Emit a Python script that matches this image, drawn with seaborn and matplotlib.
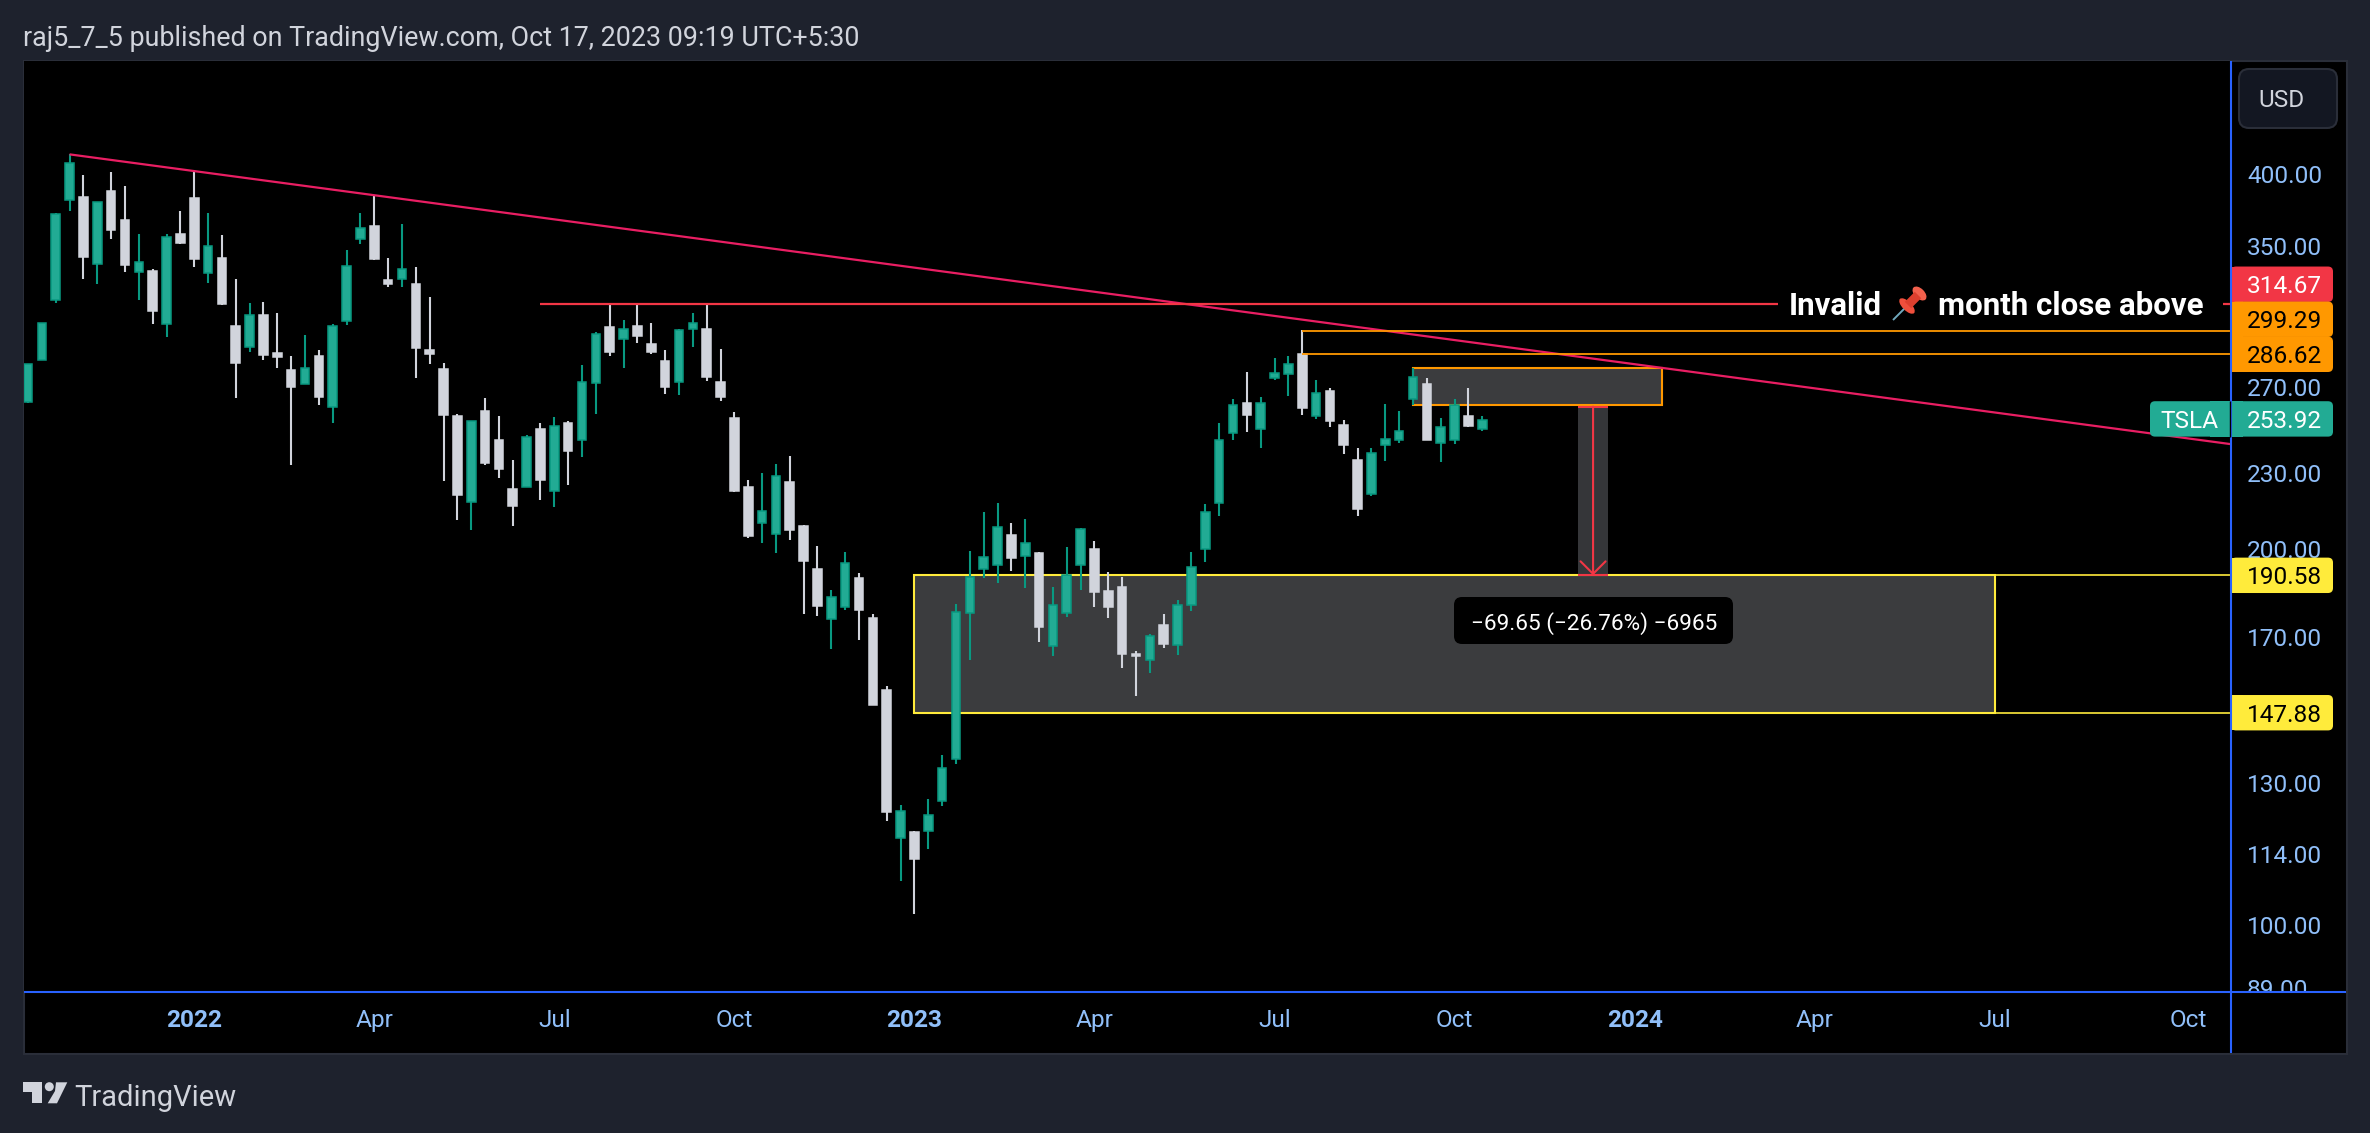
import matplotlib
matplotlib.use("Agg")
import matplotlib.pyplot as plt
import numpy as np
import pandas as pd
import seaborn as sns
from matplotlib.patches import Rectangle, FancyBboxPatch, Polygon, Circle, Ellipse
from matplotlib.ticker import NullLocator, NullFormatter
from matplotlib.transforms import Bbox

# weekly TSLA candles
opens = [262.3, 283.5, 316.7, 380.9, 383.5, 338.5, 387.3, 367.1, 333.5, 334.1,
         303.0, 357.7, 382.8, 332.9, 342.3, 301.8, 290.4, 308.0, 287.2, 278.3,
         271.2, 285.6, 259.9, 304.6, 354.4, 363.1, 328.6, 329.2, 326.2, 288.8,
         278.8, 255.7, 218.1, 258.0, 244.6, 223.4, 224.2, 249.6, 222.6, 252.4,
         244.6, 271.7, 301.2, 294.7, 301.8, 292.1, 283.0, 272.2, 300.2, 300.2,
         272.2, 254.7, 224.2, 209.8, 205.6, 226.4, 208.7, 192.7, 175.7, 179.7,
         189.6, 176.1, 154.2, 117.3, 118.7, 118.9, 125.7, 135.8, 177.7, 192.7,
         194.2, 205.2, 197.4, 198.5, 167.2, 177.7, 194.2, 200.0, 185.0, 186.4,
         164.8, 163.0, 173.8, 167.5, 180.4, 200.0, 217.7, 247.7, 261.8, 249.6,
         274.2, 276.2, 286.7, 255.7, 267.7, 251.5, 235.7, 221.3, 242.3, 244.6,
         263.8, 271.2, 243.2, 244.6, 255.7, 249.6]
highs = [281.4, 303.5, 371.9, 414.6, 398.9, 379.5, 401.1, 390.9, 357.7, 335.3,
         357.7, 373.2, 402.6, 371.9, 357.0, 329.2, 314.9, 315.9, 309.2, 285.6,
         296.9, 288.8, 303.0, 347.3, 371.9, 384.3, 342.3, 364.4, 336.6, 318.4,
         281.9, 256.6, 253.3, 264.3, 255.7, 235.7, 246.8, 252.4, 255.2, 253.3,
         280.9, 298.5, 313.8, 305.2, 314.9, 303.5, 288.8, 300.2, 309.2, 313.8,
         289.3, 257.5, 227.2, 230.1, 234.0, 237.4, 209.0, 201.1, 185.4, 198.9,
         191.3, 177.4, 155.3, 124.7, 118.9, 126.1, 136.8, 180.7, 199.2, 214.1,
         217.7, 209.8, 211.4, 198.9, 186.4, 200.7, 207.9, 202.9, 191.7, 189.9,
         165.7, 170.9, 177.4, 182.0, 198.9, 217.3, 252.4, 263.8, 277.3, 264.8,
         284.6, 285.6, 299.6, 273.2, 269.2, 253.8, 241.0, 241.0, 261.4, 258.0,
         279.3, 274.2, 254.7, 263.8, 269.2, 255.7]
lows = [261.9, 283.5, 315.1, 373.2, 329.2, 326.2, 354.4, 333.5, 316.7, 303.0,
        295.8, 351.2, 336.6, 326.8, 313.8, 264.3, 287.8, 283.5, 279.3, 233.5,
        271.2, 260.9, 252.4, 302.4, 351.2, 341.0, 324.4, 324.4, 274.2, 281.4,
        226.8, 211.0, 207.1, 233.5, 228.0, 208.7, 224.2, 218.9, 216.1, 225.1,
        237.0, 256.6, 285.6, 279.3, 292.6, 286.7, 266.2, 265.7, 290.4, 272.7,
        262.8, 222.2, 204.1, 202.2, 198.5, 203.3, 177.4, 176.7, 166.3, 178.7,
        169.1, 150.0, 121.1, 108.4, 102.0, 115.0, 124.5, 134.5, 163.0, 189.6,
        187.9, 192.0, 186.1, 168.5, 164.2, 176.4, 185.4, 179.7, 176.1, 160.6,
        152.5, 159.1, 166.6, 164.5, 178.4, 195.3, 212.6, 244.6, 248.2, 241.0,
        273.2, 265.3, 256.1, 254.3, 250.5, 238.4, 212.6, 220.5, 235.3, 243.2,
        260.9, 244.6, 234.8, 242.8, 250.5, 248.7]
closes = [281.4, 303.5, 371.2, 407.8, 343.3, 379.5, 360.4, 337.9, 339.7, 310.3,
          355.8, 351.9, 341.6, 349.9, 314.4, 281.9, 308.0, 286.2, 285.1, 269.7,
          279.3, 264.8, 301.8, 337.3, 361.7, 341.6, 326.2, 335.3, 289.9, 286.7,
          256.1, 220.9, 253.3, 234.4, 231.8, 216.5, 245.9, 227.2, 250.9, 239.7,
          272.2, 297.4, 287.8, 300.2, 296.4, 287.8, 269.7, 299.6, 303.5, 274.7,
          264.8, 222.6, 204.8, 214.5, 228.9, 207.1, 195.6, 180.0, 183.0, 194.9,
          178.7, 150.0, 123.1, 123.4, 112.9, 122.5, 133.5, 178.0, 189.9, 197.1,
          208.3, 196.7, 202.2, 173.2, 180.4, 190.7, 207.5, 184.7, 179.7, 164.8,
          164.2, 170.3, 167.9, 180.4, 193.4, 214.1, 244.6, 260.9, 256.1, 261.8,
          276.7, 281.4, 259.4, 266.7, 253.3, 242.3, 215.3, 238.8, 245.1, 248.7,
          274.7, 244.6, 250.5, 260.9, 251.0, 253.9]

# axes
time_ticks = [12, 25, 38, 51, 64, 77, 90, 103, 116, 129, 142, 156]
time_labels = ["2022", "Apr", "Jul", "Oct", "2023", "Apr", "Jul", "Oct", "2024", "Apr", "Jul", "Oct"]
price_ticks = [400, 350, 270, 230, 200, 170, 130, 114, 100, 89]

# drawings
trend_bars = [3, 159.06]
trend_prices = [414.6, 242.8]
invalid_level = 314.67
invalid_start = 37
orange_levels = [299.29, 286.62]
orange_start = 92
supply_zone = [100, 118, 260.9, 279.3]
demand_zone = [64, 142, 147.88, 190.58]
measure_bars = [111.9, 114.1]
measure_prices = [260.23, 190.58]
measure_label = "\u221269.65 (\u221226.76%) \u22126965"

# price tags on the right scale
tag_values = [314.67, 299.29, 286.62, 253.92, 190.58, 147.88]
tag_colors = ["#F23645", "#FF9800", "#FF9800", "#22AB94", "#FFEB3B", "#FFEB3B"]
tag_text_colors = ["white", "black", "black", "white", "black", "black"]
tag_nudge = [-19.5, -11.6, 0, -1, 0, 0]

GREEN_EDGE = "#089981"
GREEN_FILL = "#22AB94"
WHITE = "#D1D4DC"
PINK = "#E91E63"
RED = "#F23645"
ORANGE = "#FF9800"
YELLOW = "#FFEB3B"
BLUE = "#2962FF"
LABEL = "#90BFF9"
PANEL = "#1E222D"
BORDER = "#2A2E39"
ZONE = "#3B3C3E"
W, H = 2370, 1133

sns.set_theme(style="dark", rc={"font.family": "Roboto", "lines.solid_capstyle": "butt",
                                "axes.grid": False})

fig = plt.figure(figsize=(W / 100, H / 100), dpi=100, facecolor=PANEL)


def px_axes(z):
    a = fig.add_axes([0, 0, 1, 1], zorder=z)
    a.set_xlim(0, W)
    a.set_ylim(H, 0)
    a.axis("off")
    return a


bg = px_axes(0)
bg.add_patch(Rectangle((23.5, 60.5), 2323, 993, fc="black", ec=BORDER, lw=1.5))

ax = fig.add_axes([24 / W, 1 - 992 / H, (2231 - 24) / W, (992 - 61) / H], zorder=2)
ax.set_facecolor("black")
ax.set_yscale("log")
ax.set_xlim(-0.29, 159.06)
ax.set_ylim(88.3, 492.6)

# zones sit under the candles
x0, x1, y0, y1 = demand_zone
ax.add_patch(Rectangle((x0, y0), x1 - x0, y1 - y0, fc=ZONE, ec=YELLOW, lw=1.5, zorder=1))
ax.hlines([y0, y1], x1, 159.06, color=YELLOW, lw=1.2, zorder=1)
x0, x1, y0, y1 = supply_zone
ax.add_patch(Rectangle((x0, y0), x1 - x0, y1 - y0, fc=ZONE, ec=ORANGE, lw=1.5, zorder=1))
m0, m1 = measure_bars
ax.add_patch(Rectangle((m0, measure_prices[1]), m1 - m0, measure_prices[0] - measure_prices[1],
                       fc="#353639", ec="none", zorder=1))

# wicks
df = pd.DataFrame({"bar": np.arange(len(opens)), "open": opens, "high": highs,
                   "low": lows, "close": closes})
df["direction"] = np.where(df["close"] >= df["open"], "up", "down")
wicks = df.melt(id_vars=["bar", "direction"], value_vars=["high", "low"], value_name="price")
sns.lineplot(data=wicks, x="bar", y="price", hue="direction", units="bar", estimator=None,
             palette={"up": GREEN_EDGE, "down": WHITE}, linewidth=1.5, legend=False,
             sort=False, zorder=2, ax=ax)

# bodies
for direction, fill, edge in [("up", GREEN_FILL, GREEN_EDGE), ("down", WHITE, WHITE)]:
    part = df[df["direction"] == direction]
    ax.bar(part["bar"], (part["close"] - part["open"]).abs(),
           bottom=part[["open", "close"]].min(axis=1), width=0.62,
           color=fill, edgecolor=edge, linewidth=1.1, zorder=3)

# levels and trend line
lines = pd.DataFrame({"bar": trend_bars, "price": trend_prices})
sns.lineplot(data=lines, x="bar", y="price", color=PINK, linewidth=1.6, sort=False, zorder=4, ax=ax)
ax.hlines(invalid_level, invalid_start, 159.06, color=RED, lw=1.6, zorder=4)
ax.hlines(orange_levels, orange_start, 159.06, color=ORANGE, lw=1.3, zorder=4)

# measure tool
ax.hlines(measure_prices, m0, m1, color=RED, lw=1.5, zorder=4)
ax.annotate("", xy=(113, measure_prices[1]), xytext=(113, measure_prices[0]),
            arrowprops=dict(arrowstyle="->,head_length=0.9,head_width=0.9", color=RED, lw=1.5,
                            shrinkA=0, shrinkB=0, mutation_scale=10), zorder=5)

ax.set_xlabel("")
ax.set_ylabel("")
for s in ax.spines.values():
    s.set_visible(False)

# time scale
ax.set_xticks(time_ticks, labels=time_labels)
ax.tick_params(axis="x", length=0, pad=12, labelsize=17.6, labelcolor=LABEL)
for lbl in ax.get_xticklabels():
    if lbl.get_text().startswith("20"):
        lbl.set_fontweight("bold")

# price scale
ax.yaxis.tick_right()
ax.yaxis.set_minor_locator(NullLocator())
ax.yaxis.set_minor_formatter(NullFormatter())
ax.set_yticks(price_ticks, labels=[f"{p:.2f}" for p in price_ticks])
ax.tick_params(axis="y", length=0, pad=11.5, labelsize=17.6, labelcolor=LABEL)
# the lowest label gets cut by the time scale line
for lbl in ax.get_yticklabels():
    lbl.set_clip_on(True)
    lbl.set_clip_box(Bbox([[2231, H - 991], [2346, H - 61]]))

ov = px_axes(5)


def price_y(p):
    return H - ax.transData.transform((0, p))[1]


ov.plot([2231, 2231], [61, 1053], color=BLUE, lw=1.5)
ov.plot([24, 2346], [992, 992], color=BLUE, lw=1.5)

# price tags
for val, col, tcol, nudge in zip(tag_values, tag_colors, tag_text_colors, tag_nudge):
    yc = price_y(val) + nudge
    ov.add_patch(FancyBboxPatch((2231, yc - 17.7), 102, 35.4, fc=col, ec="none",
                                boxstyle="round,pad=0,rounding_size=5"))
    ov.add_patch(Rectangle((2231, yc - 17.7), 12, 35.4, fc=col, ec="none"))
    ov.text(2247, yc, f"{val:.2f}", color=tcol, fontsize=17.6, va="center_baseline", ha="left")
yc = price_y(253.92) - 1
ov.add_patch(FancyBboxPatch((2150, yc - 17.7), 81, 35.4, fc=GREEN_FILL, ec="none",
                            boxstyle="round,pad=0,rounding_size=5"))
ov.add_patch(Rectangle((2210, yc - 17.7), 20, 35.4, fc=GREEN_FILL, ec="none"))
ov.plot([2230, 2230], [yc - 17.7, yc + 17.7], color="black", lw=1)
ov.text(2160, yc, "TSLA", color="white", fontsize=17.6, va="center_baseline", ha="left")

# currency button
ov.add_patch(FancyBboxPatch((2239, 69), 98, 59, fc="#131722", ec=BORDER, lw=1.5,
                            boxstyle="round,pad=0,rounding_size=10"))
ov.text(2258, 98, "USD", color=WHITE, fontsize=17.6, va="center_baseline", ha="left")

# note on the invalid level
ov.add_patch(Rectangle((1778, 285), 445, 37, fc="black", ec="none"))
ov.text(1789, 303, "Invalid", color="white", fontsize=22.5, fontweight="bold", va="center_baseline")
ov.text(1938, 303, "month close above", color="white", fontsize=22.5, fontweight="bold",
        va="center_baseline")
# no colour emoji font here, so the pin is drawn
ov.plot([1893, 1904], [320, 309], color="#6FA8BC", lw=1.4)
ov.add_patch(Ellipse((1907, 306), 20, 9, angle=45, fc="#EF4F3C", ec="none"))
ov.plot([1908, 1918], [305, 295], color="#DD3F2E", lw=6.5)
ov.add_patch(Ellipse((1919.5, 293.5), 17, 10, angle=45, fc="#F2604C", ec="none"))

# measure tooltip
ov.add_patch(FancyBboxPatch((1454, 597), 279, 47, fc="black", ec="none",
                            boxstyle="round,pad=0,rounding_size=8"))
ov.text(1594.5, 621, measure_label, color="white", fontsize=16.2, ha="center", va="center_baseline")

# header and footer
ov.text(23, 35, "raj5_7_5 published on TradingView.com, Oct 17, 2023 09:19 UTC+5:30",
        color=WHITE, fontsize=19.35, va="center_baseline", ha="left")
ov.add_patch(Polygon([(23.3, 1082.3), (41.7, 1082.3), (41.7, 1103.3), (32, 1103.3), (32, 1092), (23.3, 1092)],
                     fc=WHITE, ec="none"))
ov.add_patch(Circle((49.3, 1086.7), 4.5, fc=WHITE, ec="none"))
ov.add_patch(Polygon([(56, 1082.3), (67.3, 1082.3), (57, 1103.3), (47.7, 1103.3), (55, 1091)],
                     fc=WHITE, ec="none"))
ov.text(74, 1095, "TradingView", color=WHITE, fontsize=21, va="center_baseline", ha="left")

fig.savefig("out.png", dpi=100, facecolor=PANEL)
